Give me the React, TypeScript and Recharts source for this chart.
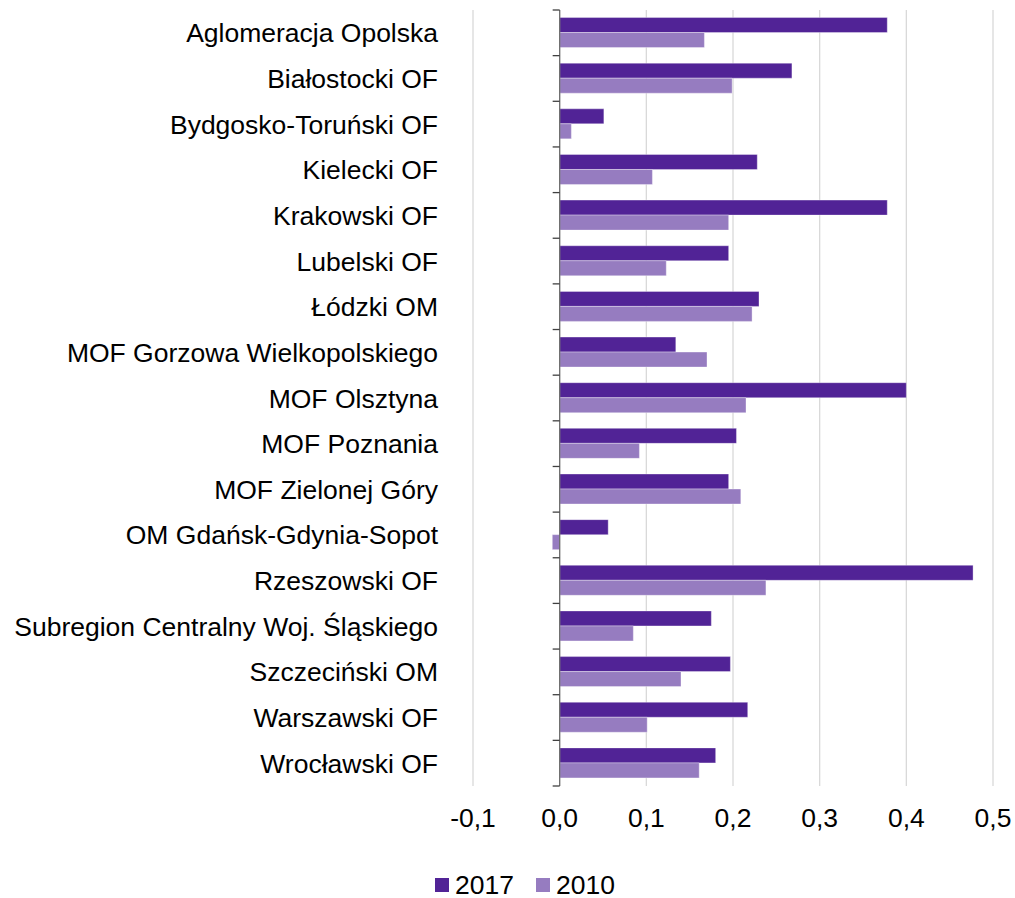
import React from 'react';
import { BarChart, Bar, XAxis, YAxis, CartesianGrid, Legend, ReferenceLine } from 'recharts';

const categories = [
  'Aglomeracja Opolska',
  'Białostocki OF',
  'Bydgosko-Toruński OF',
  'Kielecki OF',
  'Krakowski OF',
  'Lubelski OF',
  'Łódzki OM',
  'MOF Gorzowa Wielkopolskiego',
  'MOF Olsztyna',
  'MOF Poznania',
  'MOF Zielonej Góry',
  'OM Gdańsk-Gdynia-Sopot',
  'Rzeszowski OF',
  'Subregion Centralny Woj. Śląskiego',
  'Szczeciński OM',
  'Warszawski OF',
  'Wrocławski OF',
];

const values2017 = [0.378, 0.268, 0.051, 0.228, 0.378, 0.195, 0.230, 0.134, 0.400, 0.204, 0.195, 0.056, 0.477, 0.175, 0.197, 0.217, 0.180];
const values2010 = [0.167, 0.199, 0.0135, 0.107, 0.195, 0.123, 0.222, 0.170, 0.215, 0.092, 0.209, -0.0085, 0.238, 0.085, 0.140, 0.101, 0.161];

const xTicks = [-0.1, 0, 0.1, 0.2, 0.3, 0.4, 0.5];

const seriesNames = ['2017', '2010'];
const colors = ['#512396', '#967cc0'];

const data = categories.map((name, i) => ({ name, y2017: values2017[i], y2010: values2010[i] }));

const FONT = '"Liberation Sans", Arial, sans-serif';
const FS = 26.5;

const CategoryTick = (props: any) => {
  const { x, y, payload } = props;
  return (
    <text x={x} y={y} dy="0.36em" textAnchor="end" fontSize={FS} fontFamily={FONT} fill="#000">
      {payload.value}
    </text>
  );
};

// axis line at zero with tick marks between the categories
const ZeroAxis = (props: any) => {
  const { x1, y1, x2, y2 } = props;
  const n = categories.length;
  const step = (y2 - y1) / n;
  const marks = [];
  for (let i = 0; i <= n; i++) {
    const yy = y1 + i * step;
    marks.push(<line key={i} x1={x1 - 7} x2={x1} y1={yy} y2={yy} stroke="#404040" strokeWidth={1.3} />);
  }
  return (
    <g>
      <line x1={x1} y1={y1} x2={x2} y2={y2} stroke="#6e6e6e" strokeWidth={1.3} />
      {marks}
    </g>
  );
};

const LegendContent = () => (
  <div style={{ display: 'flex', alignItems: 'center', height: 26, paddingLeft: 435, fontFamily: FONT, fontSize: FS, color: '#000' }}>
    {seriesNames.map((s, i) => (
      <div key={s} style={{ display: 'flex', alignItems: 'center', marginRight: 22 }}>
        <span style={{ display: 'inline-block', width: 14, height: 14, background: colors[i], marginRight: 6 }} />
        <span style={{ lineHeight: '26px' }}>{s}</span>
      </div>
    ))}
  </div>
);

export default function App() {
  return (
    <div>
      <style>{'body { margin: 0; } .recharts-surface { overflow: visible; }'}</style>
      <BarChart
        width={1015}
        height={898}
        data={data}
        layout="vertical"
        margin={{ top: 10, right: 22, bottom: 0, left: 0 }}
        barCategoryGap="16.5%"
        barGap={0}
      >
        <CartesianGrid horizontal={false} stroke="#d9d9d9" strokeWidth={1.3} />
        <XAxis
          type="number"
          domain={[-0.1, 0.5]}
          ticks={xTicks}
          tickFormatter={(v: number) => v.toFixed(1).replace('.', ',')}
          axisLine={false}
          tickLine={false}
          tickSize={0}
          tickMargin={22}
          height={86}
          tick={{ fontSize: FS, fontFamily: FONT, fill: '#000' }}
          interval={0}
        />
        <YAxis
          type="category"
          dataKey="name"
          width={473}
          axisLine={false}
          tickLine={false}
          tickSize={0}
          tickMargin={35}
          interval={0}
          tick={<CategoryTick />}
        />
        <Legend verticalAlign="bottom" content={<LegendContent />} wrapperStyle={{ left: 0, width: 1015 }} />
        <Bar dataKey="y2017" name="2017" fill={colors[0]} stroke="#ffffff" strokeOpacity={0.35} strokeWidth={1} isAnimationActive={false} />
        <Bar dataKey="y2010" name="2010" fill={colors[1]} stroke="#ffffff" strokeOpacity={0.35} strokeWidth={1} isAnimationActive={false} />
        <ReferenceLine x={0} shape={<ZeroAxis />} />
      </BarChart>
    </div>
  );
}
